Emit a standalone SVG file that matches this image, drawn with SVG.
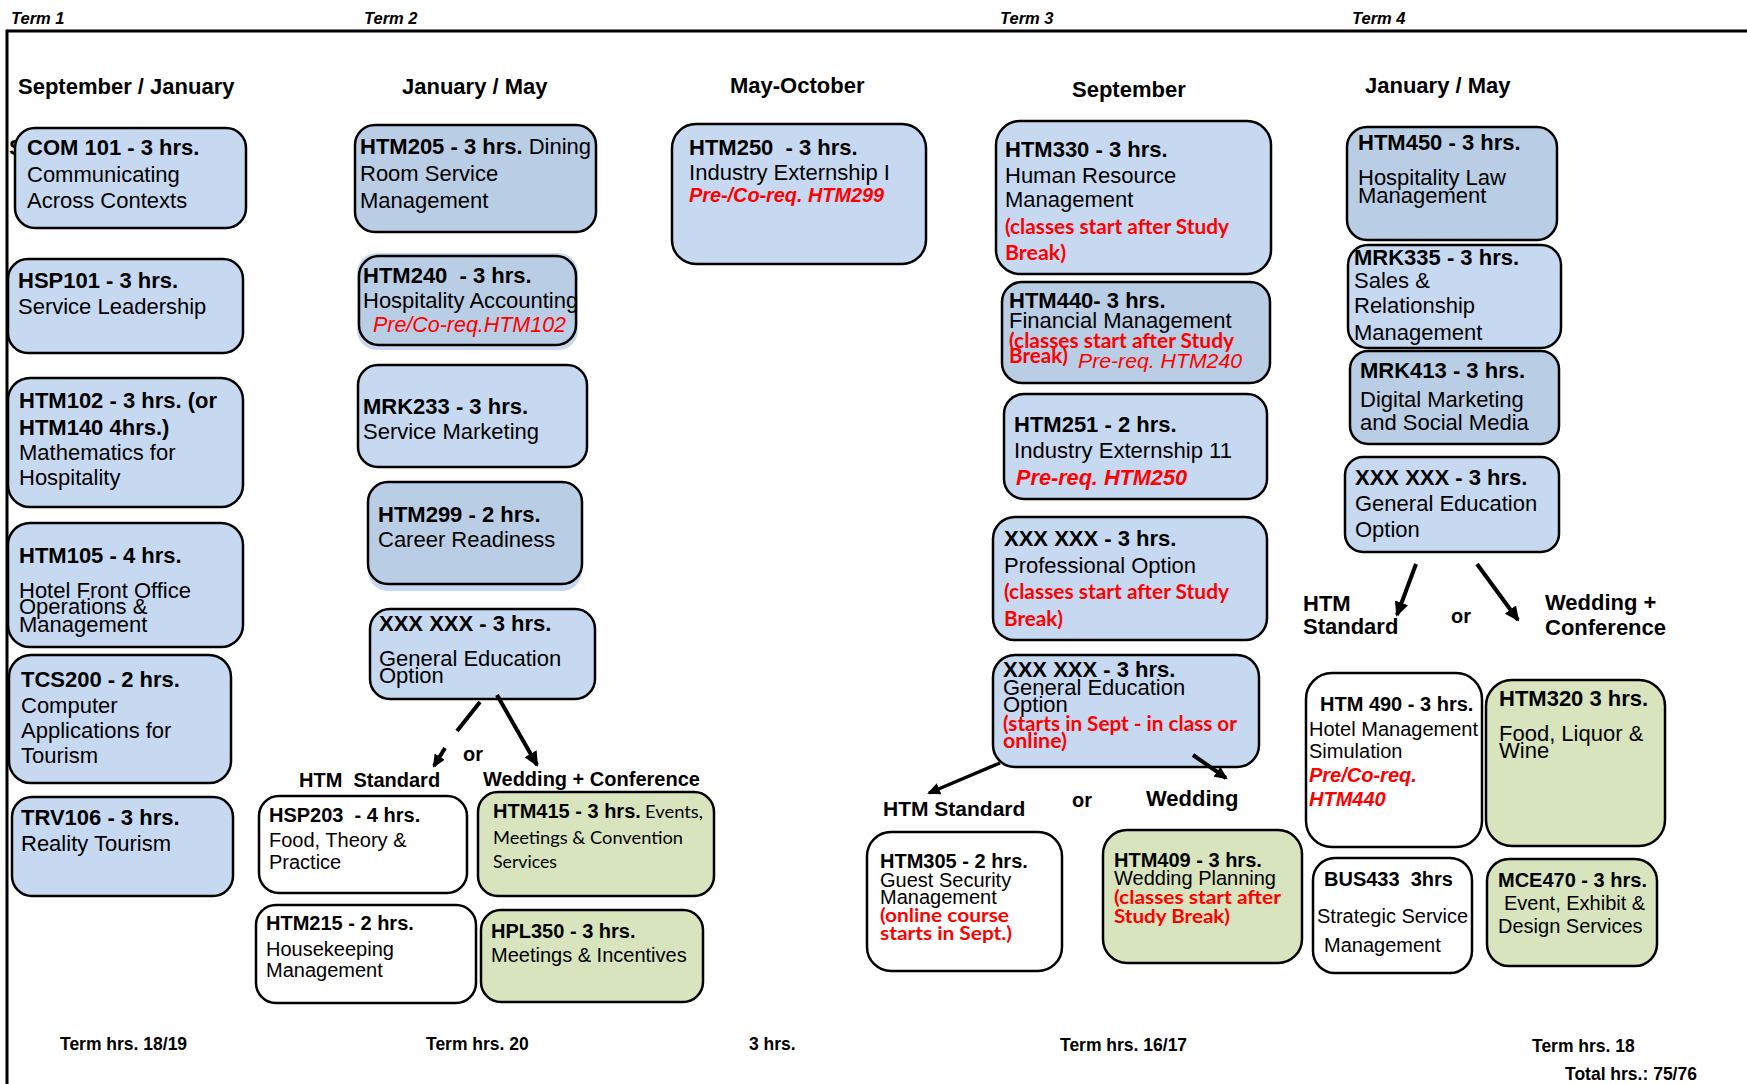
<svg xmlns="http://www.w3.org/2000/svg" width="1747" height="1084" viewBox="0 0 1747 1084">
<style>
text{font-family:"Liberation Sans",Arial,sans-serif;fill:#000}
.box{stroke:#000;stroke-width:2.5}
.lb{fill:#c6d9f1}
.db{fill:#b9cde5}
.gr{fill:#d7e4bd}
.wh{fill:#fff}
.glow{fill:#c6d9f1;stroke:none}
.t{font-size:22px;font-weight:bold}
.b{font-size:22px}
.ts{font-size:20px;font-weight:bold}
.bs{font-size:20px}
.hd{font-size:22px;font-weight:bold}
.term{font-size:16.5px;font-weight:bold;font-style:italic}
.foot{font-size:17.5px;font-weight:bold}
.ri{fill:#f00;font-style:italic}
.rbi{fill:#f00;font-style:italic;font-weight:bold}
.cr{font-family:Lato,"Open Sans",sans-serif;font-weight:bold;fill:#f00}
.cal{font-family:Lato,"Open Sans",sans-serif}
.conn{stroke:#000;fill:none}
</style>
<defs>
<marker id="ah" markerUnits="userSpaceOnUse" markerWidth="16" markerHeight="14" refX="13" refY="7" orient="auto">
<path d="M0,0 L15,7 L0,14 z" fill="#000"/>
</marker>
<marker id="ahs" markerUnits="userSpaceOnUse" markerWidth="14" markerHeight="12" refX="11" refY="6" orient="auto">
<path d="M0,0 L13,6 L0,12 z" fill="#000"/>
</marker>
</defs>

<!-- frame -->
<g id="frame">
<line x1="7" y1="31" x2="1747" y2="31" stroke="#000" stroke-width="3"/>
<line x1="7" y1="29.5" x2="7" y2="1084" stroke="#000" stroke-width="3"/>
<text class="term" x="11" y="24">Term 1</text>
<text class="term" x="364" y="24">Term 2</text>
<text class="term" x="1000" y="24">Term 3</text>
<text class="term" x="1352" y="24">Term 4</text>
<text class="hd" x="18" y="94">September / January</text>
<text class="hd" x="402" y="94">January / May</text>
<text class="hd" x="730" y="93">May-October</text>
<text class="hd" x="1072" y="97">September</text>
<text class="hd" x="1365" y="93">January / May</text>
</g>

<!-- Term 1 -->
<g id="com101">
<text class="t" x="9" y="155">S</text>
<rect class="box lb" x="15" y="128" width="231" height="100" rx="20"/>
<text class="t" x="27" y="155">COM 101 - 3 hrs.</text>
<text class="b" x="27" y="182">Communicating</text>
<text class="b" x="27" y="208">Across Contexts</text>
</g>
<g id="hsp101">
<rect class="box lb" x="8" y="259" width="235" height="94" rx="20"/>
<text class="t" x="18" y="288">HSP101 - 3 hrs.</text>
<text class="b" x="18" y="314">Service Leadership</text>
</g>
<g id="htm102">
<rect class="box lb" x="8" y="378" width="235" height="129" rx="22"/>
<text class="t" x="19" y="408">HTM102 - 3 hrs. (or</text>
<text class="t" x="19" y="435">HTM140 4hrs.)</text>
<text class="b" x="19" y="460">Mathematics for</text>
<text class="b" x="19" y="485">Hospitality</text>
</g>
<g id="htm105">
<rect class="box lb" x="8" y="523" width="235" height="124" rx="22"/>
<text class="t" x="19" y="563">HTM105 - 4 hrs.</text>
<text class="b" x="19" y="598">Hotel Front Office</text>
<text class="b" x="19" y="614">Operations &amp;</text>
<text class="b" x="19" y="632">Management</text>
</g>
<g id="tcs200">
<rect class="box lb" x="9" y="655" width="222" height="128" rx="22"/>
<text class="t" x="21" y="687">TCS200 - 2 hrs.</text>
<text class="b" x="21" y="713">Computer</text>
<text class="b" x="21" y="738">Applications for</text>
<text class="b" x="21" y="763">Tourism</text>
</g>
<g id="trv106">
<rect class="box lb" x="12" y="797" width="221" height="99" rx="20"/>
<text class="t" x="21" y="825">TRV106 - 3 hrs.</text>
<text class="b" x="21" y="851">Reality Tourism</text>
</g>

<!-- Term 2 -->
<g id="htm205">
<rect class="box db" x="355" y="125" width="241" height="107" rx="20"/>
<text x="360" y="154"><tspan class="t">HTM205 - 3 hrs.</tspan><tspan class="b"> Dining</tspan></text>
<text class="b" x="360" y="181">Room Service</text>
<text class="b" x="360" y="208">Management</text>
</g>
<g id="htm240">
<rect class="glow" x="357" y="253" width="221" height="97" rx="20"/>
<rect class="box db" x="359" y="256" width="217" height="89" rx="20"/>
<text class="t" x="363" y="283">HTM240&#160; - 3 hrs.</text>
<text class="b" x="363" y="308">Hospitality Accounting</text>
<text class="b ri" x="373" y="332" textLength="193" lengthAdjust="spacingAndGlyphs">Pre/Co-req.HTM102</text>
</g>
<g id="mrk233">
<rect class="box lb" x="358" y="365" width="229" height="102" rx="20"/>
<text class="t" x="363" y="414">MRK233 - 3 hrs.</text>
<text class="b" x="363" y="439">Service Marketing</text>
</g>
<g id="htm299">
<rect class="glow" x="368" y="486" width="214" height="105" rx="20"/>
<rect class="box db" x="368" y="482" width="214" height="102" rx="20"/>
<text class="t" x="378" y="522">HTM299 - 2 hrs.</text>
<text class="b" x="378" y="547">Career Readiness</text>
</g>
<g id="gened2">
<rect class="box lb" x="370" y="609" width="225" height="90" rx="20"/>
<text class="t" x="379" y="631">XXX XXX - 3 hrs.</text>
<text class="b" x="379" y="666">General Education</text>
<text class="b" x="379" y="683">Option</text>
</g>
<g id="branch2">
<text class="ts" x="463" y="761">or</text>
<text class="ts" x="299" y="787">HTM&#160; Standard</text>
<text class="ts" x="483" y="786">Wedding + Conference</text>
</g>
<g id="hsp203">
<rect class="box wh" x="259" y="796" width="208" height="97" rx="20"/>
<text class="ts" x="269" y="822">HSP203&#160; - 4 hrs.</text>
<text class="bs" x="269" y="847">Food, Theory &amp;</text>
<text class="bs" x="269" y="869">Practice</text>
</g>
<g id="htm215">
<rect class="box wh" x="256" y="905" width="220" height="98" rx="20"/>
<text class="ts" x="266" y="930">HTM215 - 2 hrs.</text>
<text class="bs" x="266" y="956">Housekeeping</text>
<text class="bs" x="266" y="977">Management</text>
</g>
<g id="htm415">
<rect class="box gr" x="478" y="792" width="236" height="104" rx="20"/>
<text class="ts" x="493" y="818">HTM415 - 3 hrs.</text>
<text class="cal" x="645" y="818" font-size="18" textLength="58" lengthAdjust="spacingAndGlyphs">Events,</text>
<text class="cal" x="493" y="844" font-size="18" textLength="190" lengthAdjust="spacingAndGlyphs">Meetings &amp; Convention</text>
<text class="cal" x="493" y="868" font-size="18" textLength="64" lengthAdjust="spacingAndGlyphs">Services</text>
</g>
<g id="hpl350">
<rect class="box gr" x="481" y="910" width="222" height="92" rx="20"/>
<text class="ts" x="491" y="938">HPL350 - 3 hrs.</text>
<text class="bs" x="491" y="962">Meetings &amp; Incentives</text>
</g>

<!-- May-October -->
<g id="htm250">
<rect class="box lb" x="672" y="124" width="254" height="140" rx="24"/>
<text class="t" x="689" y="155">HTM250&#160; - 3 hrs.</text>
<text class="b" x="689" y="180" textLength="201" lengthAdjust="spacingAndGlyphs">Industry Externship I</text>
<text class="bs rbi" x="689" y="202" textLength="195" lengthAdjust="spacingAndGlyphs">Pre-/Co-req. HTM299</text>
</g>

<!-- Term 3 -->
<g id="htm330">
<rect class="box lb" x="996" y="121" width="275" height="153" rx="24"/>
<text class="t" x="1005" y="157">HTM330 - 3 hrs.</text>
<text class="b" x="1005" y="183">Human Resource</text>
<text class="b" x="1005" y="207">Management</text>
<text class="cr" x="1005" y="234" font-size="20" textLength="224" lengthAdjust="spacingAndGlyphs">(classes start after Study</text>
<text class="cr" x="1005" y="260" font-size="20" textLength="61" lengthAdjust="spacingAndGlyphs">Break)</text>
</g>
<g id="htm440">
<rect class="box db" x="1002" y="282" width="268" height="101" rx="20"/>
<text class="t" x="1009" y="308">HTM440- 3 hrs.</text>
<text class="b" x="1009" y="328">Financial Management</text>
<text class="cr" x="1009" y="348" font-size="20" textLength="225" lengthAdjust="spacingAndGlyphs">(classes start after Study</text>
<text class="cr" x="1009" y="363" font-size="20" textLength="59" lengthAdjust="spacingAndGlyphs">Break)</text>
<text class="ri" x="1078" y="368" font-size="21" textLength="164" lengthAdjust="spacingAndGlyphs">Pre-req. HTM240</text>
</g>
<g id="htm251">
<rect class="box lb" x="1004" y="394" width="263" height="105" rx="20"/>
<text class="t" x="1014" y="432">HTM251 - 2 hrs.</text>
<text class="b" x="1014" y="458" textLength="218" lengthAdjust="spacingAndGlyphs">Industry Externship 11</text>
<text class="t rbi" x="1016" y="485" textLength="171" lengthAdjust="spacingAndGlyphs">Pre-req. HTM250</text>
</g>
<g id="prof3">
<rect class="box lb" x="993" y="517" width="274" height="123" rx="22"/>
<text class="t" x="1004" y="546">XXX XXX - 3 hrs.</text>
<text class="b" x="1004" y="573">Professional Option</text>
<text class="cr" x="1004" y="599" font-size="20" textLength="225" lengthAdjust="spacingAndGlyphs">(classes start after Study</text>
<text class="cr" x="1004" y="626" font-size="20" textLength="59" lengthAdjust="spacingAndGlyphs">Break)</text>
</g>
<g id="gened3">
<rect class="box lb" x="993" y="655" width="266" height="112" rx="22"/>
<text class="t" x="1003" y="677">XXX XXX - 3 hrs.</text>
<text class="b" x="1003" y="695">General Education</text>
<text class="b" x="1003" y="712">Option</text>
<text class="cr" x="1003" y="731" font-size="20" textLength="234" lengthAdjust="spacingAndGlyphs">(starts in Sept - in class or</text>
<text class="cr" x="1003" y="748" font-size="20" textLength="64" lengthAdjust="spacingAndGlyphs">online)</text>
</g>
<g id="branch3">
<text x="883" y="816" font-size="21" font-weight="bold">HTM Standard</text>
<text class="ts" x="1072" y="807">or</text>
<text class="hd" x="1146" y="806">Wedding</text>
</g>
<g id="htm305">
<rect class="box wh" x="867" y="832" width="195" height="139" rx="24"/>
<text class="ts" x="880" y="868">HTM305 - 2 hrs.</text>
<text class="bs" x="880" y="887">Guest Security</text>
<text class="bs" x="880" y="904">Management</text>
<text class="cr" x="880" y="922" font-size="19" textLength="129" lengthAdjust="spacingAndGlyphs">(online course</text>
<text class="cr" x="880" y="940" font-size="19" textLength="132" lengthAdjust="spacingAndGlyphs">starts in Sept.)</text>
</g>
<g id="htm409">
<rect class="box gr" x="1103" y="830" width="199" height="133" rx="24"/>
<text class="ts" x="1114" y="867">HTM409 - 3 hrs.</text>
<text class="bs" x="1114" y="885">Wedding Planning</text>
<text class="cr" x="1114" y="904" font-size="19" textLength="167" lengthAdjust="spacingAndGlyphs">(classes start after</text>
<text class="cr" x="1114" y="923" font-size="19" textLength="116" lengthAdjust="spacingAndGlyphs">Study Break)</text>
</g>

<!-- Term 4 -->
<g id="htm450">
<rect class="box db" x="1347" y="127" width="210" height="113" rx="20"/>
<text class="t" x="1358" y="150">HTM450 - 3 hrs.</text>
<text class="b" x="1358" y="185">Hospitality Law</text>
<text class="b" x="1358" y="203">Management</text>
</g>
<g id="mrk335">
<rect class="box lb" x="1348" y="245" width="213" height="103" rx="20"/>
<text class="t" x="1354" y="265">MRK335 - 3 hrs.</text>
<text class="b" x="1354" y="288">Sales &amp;</text>
<text class="b" x="1354" y="313">Relationship</text>
<text class="b" x="1354" y="340">Management</text>
</g>
<g id="mrk413">
<rect class="box db" x="1350" y="351" width="209" height="93" rx="18"/>
<text class="t" x="1360" y="378">MRK413 - 3 hrs.</text>
<text class="b" x="1360" y="407">Digital Marketing</text>
<text class="b" x="1360" y="430">and Social Media</text>
</g>
<g id="gened4">
<rect class="box lb" x="1345" y="457" width="214" height="95" rx="18"/>
<text class="t" x="1355" y="485">XXX XXX - 3 hrs.</text>
<text class="b" x="1355" y="511">General Education</text>
<text class="b" x="1355" y="537">Option</text>
</g>
<g id="branch4">
<text class="hd" x="1303" y="611">HTM</text>
<text class="hd" x="1303" y="634">Standard</text>
<text class="ts" x="1451" y="623">or</text>
<text class="hd" x="1545" y="610">Wedding +</text>
<text class="hd" x="1545" y="635">Conference</text>
</g>
<g id="htm490">
<rect class="box wh" x="1306" y="673" width="176" height="174" rx="26"/>
<text class="ts" x="1320" y="711">HTM 490 - 3 hrs.</text>
<text class="bs" x="1309" y="736">Hotel Management</text>
<text class="bs" x="1309" y="758">Simulation</text>
<text class="ts rbi" x="1309" y="782">Pre/Co-req.</text>
<text class="ts rbi" x="1309" y="806">HTM440</text>
</g>
<g id="htm320">
<rect class="box gr" x="1486" y="680" width="179" height="166" rx="26"/>
<text class="t" x="1499" y="706">HTM320 3 hrs.</text>
<text class="b" x="1499" y="741">Food, Liquor &amp;</text>
<text class="b" x="1499" y="758">Wine</text>
</g>
<g id="bus433">
<rect class="box wh" x="1313" y="858" width="159" height="115" rx="22"/>
<text class="ts" x="1324" y="886">BUS433&#160; 3hrs</text>
<text class="bs" x="1317" y="923">Strategic Service</text>
<text class="bs" x="1324" y="952">Management</text>
</g>
<g id="mce470">
<rect class="box gr" x="1487" y="859" width="170" height="107" rx="22"/>
<text class="ts" x="1498" y="887">MCE470 - 3 hrs.</text>
<text class="bs" x="1504" y="910">Event, Exhibit &amp;</text>
<text class="bs" x="1498" y="933">Design Services</text>
</g>

<!-- footers -->
<g id="footers">
<text class="foot" x="60" y="1050">Term hrs. 18/19</text>
<text class="foot" x="426" y="1050">Term hrs. 20</text>
<text class="foot" x="749" y="1050">3 hrs.</text>
<text class="foot" x="1060" y="1051">Term hrs. 16/17</text>
<text class="foot" x="1532" y="1052">Term hrs. 18</text>
<text class="foot" x="1565" y="1080">Total hrs.: 75/76</text>
</g>

<!-- connectors -->
<g id="connectors">
<line class="conn" x1="480" y1="702" x2="457" y2="731" stroke-width="4"/>
<line class="conn" x1="445" y1="748" x2="434" y2="766" stroke-width="4" marker-end="url(#ahs)"/>
<line class="conn" x1="497" y1="695" x2="537" y2="765" stroke-width="4" marker-end="url(#ah)"/>
<line class="conn" x1="1000" y1="763" x2="929" y2="793" stroke-width="3.5" marker-end="url(#ahs)"/>
<line class="conn" x1="1193" y1="755" x2="1226" y2="778" stroke-width="4" marker-end="url(#ahs)"/>
<line class="conn" x1="1416" y1="564" x2="1397" y2="615" stroke-width="4" marker-end="url(#ah)"/>
<line class="conn" x1="1477" y1="564" x2="1518" y2="620" stroke-width="4" marker-end="url(#ah)"/>
</g>
</svg>
